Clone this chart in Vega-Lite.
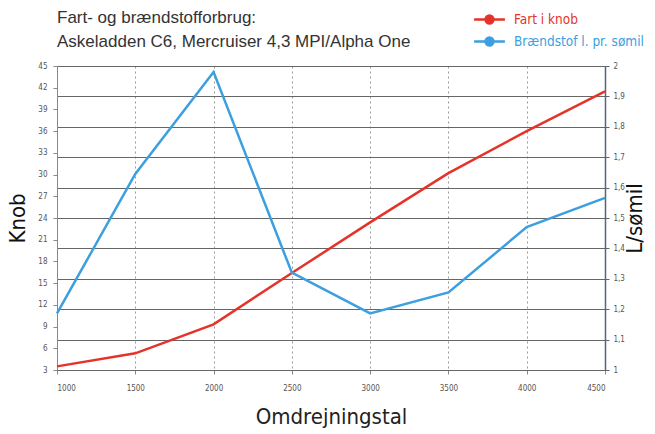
{
  "$schema": "https://vega.github.io/schema/vega-lite/v6.json",
  "width": 548,
  "height": 304,
  "autosize": "none",
  "padding": {"left": 57, "top": 66, "right": 50, "bottom": 64},
  "background": "white",
  "config": {
    "font": "DejaVu Sans Condensed, Liberation Sans, sans-serif",
    "view": {"stroke": null}
  },
  "title": {
    "text": ["Fart- og brændstofforbrug:", "Askeladden C6, Mercruiser 4,3 MPI/Alpha One"],
    "anchor": "start",
    "frame": "group",
    "fontSize": 17,
    "fontWeight": "normal",
    "lineHeight": 24,
    "color": "#333333",
    "offset": 0,
    "dy": 44,
    "font": "Liberation Sans, sans-serif"
  },
  "data": {
    "values": [
      {"rpm": 1000, "knob": 3.5, "lsm": 1.186},
      {"rpm": 1500, "knob": 5.3, "lsm": 1.645},
      {"rpm": 2000, "knob": 9.3, "lsm": 1.98},
      {"rpm": 2500, "knob": 16.4, "lsm": 1.32},
      {"rpm": 3000, "knob": 23.4, "lsm": 1.186},
      {"rpm": 3500, "knob": 30.2, "lsm": 1.255},
      {"rpm": 4000, "knob": 36.0, "lsm": 1.47},
      {"rpm": 4500, "knob": 41.5, "lsm": 1.566}
    ]
  },
  "encoding": {
    "x": {
      "field": "rpm",
      "type": "quantitative",
      "scale": {"domain": [1000, 4500], "nice": false, "zero": false},
      "axis": {
        "values": [1000, 1500, 2000, 2500, 3000, 3500, 4000, 4500],
        "format": "d",
        "title": "Omdrejningstal",
        "titleFontSize": 22,
        "titleFontWeight": "normal",
        "titleColor": "#222222",
        "titlePadding": 14,
        "labelFontSize": 8,
        "labelColor": "#555555",
        "labelPadding": 10,
        "tickSize": 4,
        "tickColor": "#888888",
        "domainColor": "#666666",
        "grid": true,
        "gridColor": "#999999",
        "gridDash": [2, 3],
        "gridWidth": 1
      }
    }
  },
  "layer": [
    {
      "mark": {"type": "line", "strokeWidth": 2.5},
      "encoding": {
        "y": {
          "field": "knob",
          "type": "quantitative",
          "scale": {"domain": [3, 45], "nice": false, "zero": false},
          "axis": {
            "orient": "left",
            "values": [3, 6, 9, 12, 15, 18, 21, 24, 27, 30, 33, 36, 39, 42, 45],
            "title": "Knob",
            "titleFontSize": 22,
            "titleFontWeight": "normal",
            "titleColor": "#111111",
            "titlePadding": 8,
            "labelFontSize": 8,
            "labelColor": "#555555",
            "labelPadding": 6,
            "tickSize": 4,
            "tickColor": "#888888",
            "domainColor": "#888888",
            "grid": false
          }
        },
        "color": {
          "datum": "Fart i knob",
          "type": "nominal",
          "scale": {
            "domain": ["Fart i knob", "Brændstof l. pr. sømil"],
            "range": ["#e5332a", "#3c9fe0"]
          },
          "legend": {
            "title": null,
            "orient": "none",
            "legendX": 420,
            "legendY": -59,
            "symbolType": "M-1.4,0L1.4,0M0.36,0A0.36,0.36,0,1,1,-0.36,0A0.36,0.36,0,1,1,0.36,0Z",
            "symbolSize": 484,
            "symbolStrokeWidth": 2.5,
            "labelFontSize": 13.5,
            "labelOffset": 12,
            "labelLimit": 300,
            "rowPadding": 0,
            "padding": 0,
            "encode": {
              "symbols": {"update": {"fill": {"scale": "color", "field": "value"}, "stroke": {"scale": "color", "field": "value"}, "fillOpacity": {"value": 1}}},
              "labels": {"update": {"fill": {"scale": "color", "field": "value"}}}
            }
          }
        }
      }
    },
    {
      "mark": {"type": "line", "strokeWidth": 2.5},
      "encoding": {
        "y": {
          "field": "lsm",
          "type": "quantitative",
          "scale": {"domain": [1, 2], "nice": false, "zero": false},
          "axis": {
            "orient": "right",
            "values": [1, 1.1, 1.2, 1.3, 1.4, 1.5, 1.6, 1.7, 1.8, 1.9, 2],
            "labelExpr": "replace(toString(round(datum.value*10)/10), '.', ',')",
            "title": "L/sømil",
            "titleAngle": 270,
            "titleFontSize": 22,
            "titleFontWeight": "normal",
            "titleColor": "#111111",
            "titlePadding": 22,
            "labelFontSize": 8,
            "labelColor": "#555555",
            "labelPadding": 4,
            "tickSize": 4,
            "tickColor": "#556677",
            "domainColor": "#556677",
            "domainWidth": 1.5,
            "grid": true,
            "gridColor": "#666666",
            "gridWidth": 1.2
          }
        },
        "color": {"datum": "Brændstof l. pr. sømil", "type": "nominal"}
      }
    }
  ],
  "resolve": {"scale": {"y": "independent"}}
}
